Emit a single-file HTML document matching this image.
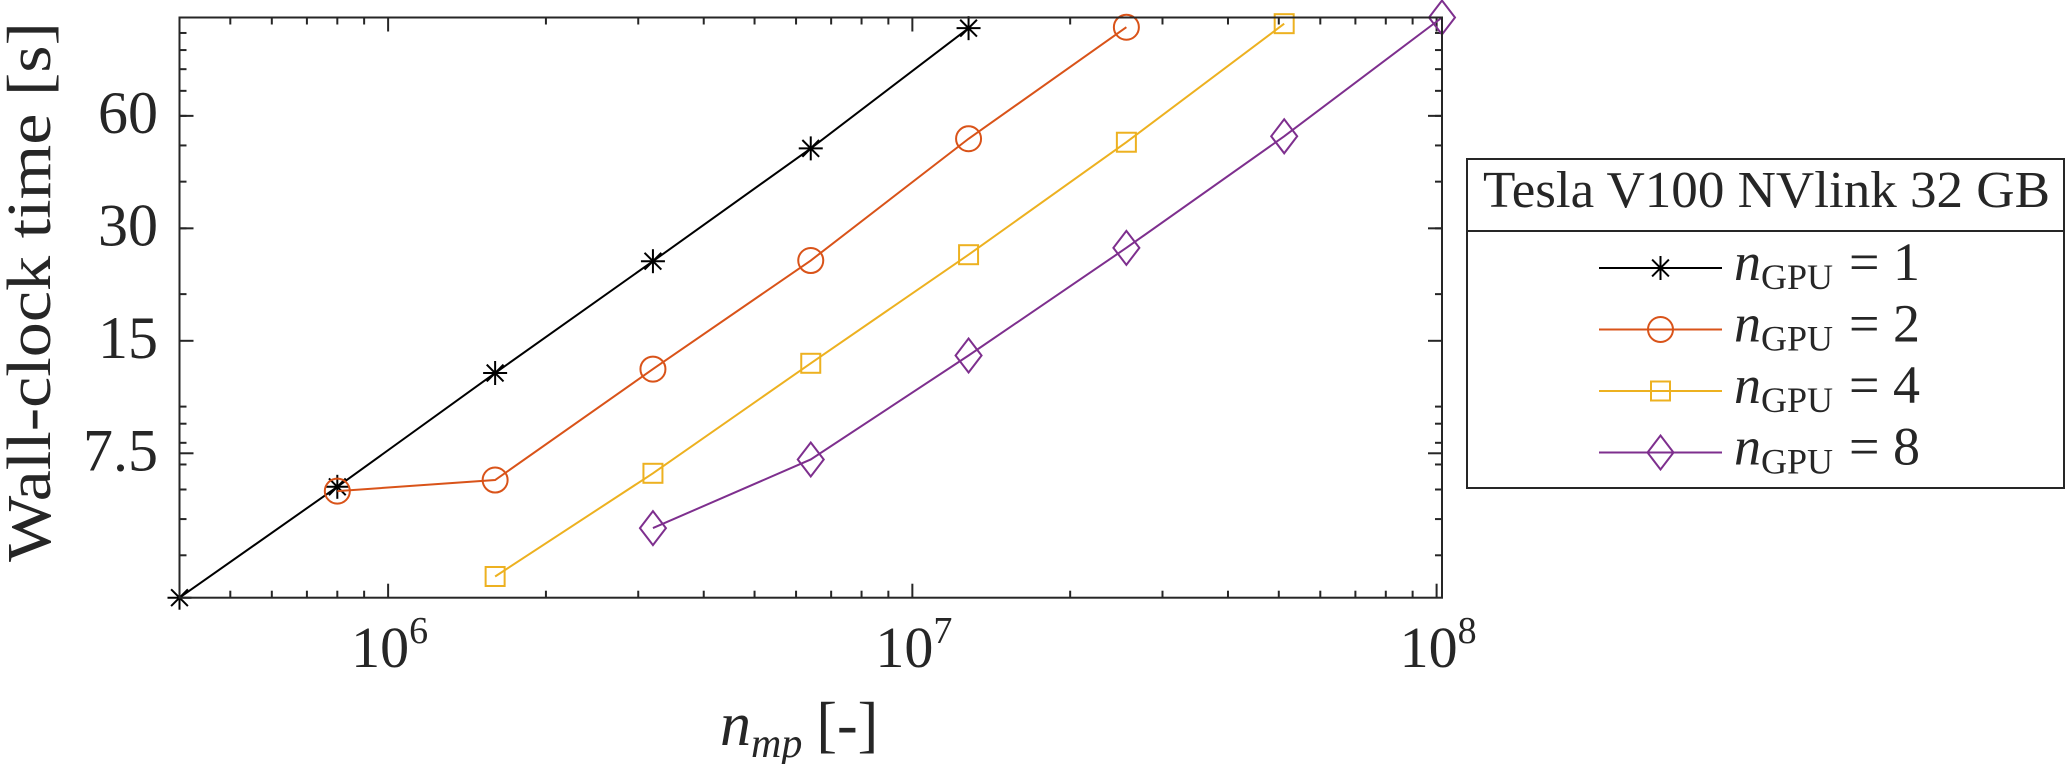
<!DOCTYPE html>
<html><head><meta charset="utf-8">
<style>
html,body{margin:0;padding:0;background:#fff;}
svg{display:block;}
text{font-family:"Liberation Serif",serif;fill:#262626;}
</style></head>
<body>
<svg id="chart" width="2067" height="764" viewBox="0 0 2067 764" xmlns="http://www.w3.org/2000/svg">
  <g id="grid"></g>
  <g id="series"></g>
  <g id="frame"></g>
  <text transform="translate(50,292) rotate(-90)" text-anchor="middle" font-size="62" textLength="540" lengthAdjust="spacingAndGlyphs">Wall-clock time [s]</text>
  <text x="720" y="745" font-size="62"><tspan font-style="italic">n</tspan><tspan font-style="italic" font-size="42" dy="12">mp</tspan><tspan dy="-12" dx="14">[-]</tspan></text>
  <g id="legend">
    <rect x="1467" y="159" width="597" height="329" fill="#fff" stroke="#262626" stroke-width="2"/>
    <line x1="1467" y1="231" x2="2064" y2="231" stroke="#262626" stroke-width="2"/>
    <text x="1483" y="207" font-size="52" textLength="567" lengthAdjust="spacingAndGlyphs">Tesla V100 NVlink 32 GB</text>
  </g>
</svg>
<script>
const categories = [4e5, 8e5, 1.6e6, 3.2e6, 6.4e6, 1.28e7, 2.56e7, 5.12e7, 1.024e8];
const seriesNames = ["n1", "n2", "n4", "n8"];
const gpuCounts = ["1", "2", "4", "8"];
const xN1 = [4e5, 8e5, 1.6e6, 3.2e6, 6.4e6, 1.28e7];
const yN1 = [3.08, 6.10, 12.3, 24.5, 49.1, 103.0];
const xN2 = [8e5, 1.6e6, 3.2e6, 6.4e6, 1.28e7, 2.56e7];
const yN2 = [5.94, 6.36, 12.6, 24.6, 52.1, 103.6];
const xN4 = [1.6e6, 3.2e6, 6.4e6, 1.28e7, 2.56e7, 5.12e7];
const yN4 = [3.51, 6.63, 13.06, 25.5, 51.0, 105.9];
const xN8 = [3.2e6, 6.4e6, 1.28e7, 2.56e7, 5.12e7, 1.024e8];
const yN8 = [4.73, 7.22, 13.7, 26.6, 52.9, 110];
const yTickValues = [7.5, 15, 30, 60];
const yTickLabels = ["7.5", "15", "30", "60"];
const yMinorValues = [4,5,6,7,8,9,10,20,30,40,50,60,70,80,90,100];
const xTickValues = [1e6, 1e7, 1e8];
const xTickExps = ["6", "7", "8"];
const xDomain = [4e5, 1.024e8];
const yDomain = [3.08, 110];

const L = 179.5, R = 1442, T = 17.5, B = 597.7;
const NS = "http://www.w3.org/2000/svg";
function xs(v){ return L + (Math.log10(v) - Math.log10(xDomain[0])) / (Math.log10(xDomain[1]) - Math.log10(xDomain[0])) * (R - L); }
function ys(v){ return B - (Math.log10(v) - Math.log10(yDomain[0])) / (Math.log10(yDomain[1]) - Math.log10(yDomain[0])) * (B - T); }
function mk(tag, attrs, parent){ const e = document.createElementNS(NS, tag); for (const k in attrs) e.setAttribute(k, attrs[k]); parent.appendChild(e); return e; }

const grid = document.getElementById('grid');
const frame = document.getElementById('frame');
const ax = "#262626";

// x minor ticks
for (let d = 5; d <= 8; d++) {
  for (let m = 1; m <= 9; m++) {
    const v = m * Math.pow(10, d);
    if (v < xDomain[0] || v > xDomain[1]) continue;
    const x = xs(v);
    const len = (m === 1) ? 14 : 7;
    const t1 = mk('line', {x1:x, y1:B, x2:x, y2:B-len, stroke:ax, 'stroke-width':2}, grid);
    
    
    const t2 = mk('line', {x1:x, y1:T, x2:x, y2:T+len, stroke:ax, 'stroke-width':2}, grid);
    
    
  }
}
// y minor ticks
yMinorValues.forEach(v => {
  if (v < yDomain[0] || v > yDomain[1]) return;
  const y = ys(v);
  const a = mk('line', {x1:L, y1:y, x2:L+7, y2:y, stroke:ax, 'stroke-width':2}, grid);
  
  
  const b = mk('line', {x1:R, y1:y, x2:R-7, y2:y, stroke:ax, 'stroke-width':2}, grid);
  
  
});
// y major ticks + labels
yTickValues.forEach((v, i) => {
  const y = ys(v);
  const a = mk('line', {x1:L, y1:y, x2:L+14, y2:y, stroke:ax, 'stroke-width':2}, grid);
  
  
  const b = mk('line', {x1:R, y1:y, x2:R-14, y2:y, stroke:ax, 'stroke-width':2}, grid);
  
  
  const t = mk('text', {x:158, y:y+17, 'text-anchor':'end', 'font-size':60}, grid);
  
  
  t.textContent = yTickLabels[i];
});
// x labels
xTickValues.forEach((v, i) => {
  const x = xs(v);
  const t = mk('text', {x:x-37, y:667, 'font-size':58}, grid);
  
  
  t.textContent = "10";
  const s = mk('tspan', {dy:-24, 'font-size':38}, t);
  s.textContent = xTickExps[i];
});
// frame
const fr = mk('rect', {x:L, y:T, width:R-L, height:B-T, fill:'none', stroke:ax, 'stroke-width':2}, frame);



const colors = ["#000000", "#D95319", "#EDB120", "#7E2F8E"];
const markers = ["star", "circle", "square", "diamond"];
const xsData = [xN1, xN2, xN4, xN8];
const ysData = [yN1, yN2, yN4, yN8];

function marker(type, cx, cy, color, parent){
  const g = mk('g', {fill:'none', stroke:color, 'stroke-width':2}, parent);
  if (type === 'star') {
    const r = 12;
    mk('line', {x1:cx-r, y1:cy, x2:cx+r, y2:cy}, g);
    mk('line', {x1:cx, y1:cy-r, x2:cx, y2:cy+r}, g);
    mk('line', {x1:cx-r*0.7, y1:cy-r*0.7, x2:cx+r*0.7, y2:cy+r*0.7}, g);
    mk('line', {x1:cx-r*0.7, y1:cy+r*0.7, x2:cx+r*0.7, y2:cy-r*0.7}, g);
  } else if (type === 'circle') {
    mk('circle', {cx:cx, cy:cy, r:12.5}, g);
  } else if (type === 'square') {
    mk('rect', {x:cx-9.5, y:cy-9.5, width:19, height:19}, g);
  } else {
    mk('polygon', {points:`${cx},${cy-17} ${cx+13},${cy} ${cx},${cy+17} ${cx-13},${cy}`}, g);
  }
  return g;
}

const seriesG = document.getElementById('series');
seriesNames.forEach((name, si) => {
  const g = mk('g', {}, seriesG);
  
  
  const pts = xsData[si].map((xv, i) => xs(xv) + ',' + ys(ysData[si][i])).join(' ');
  const pl = mk('polyline', {points:pts, fill:'none', stroke:colors[si], 'stroke-width':2}, g);
  
  
  xsData[si].forEach((xv, i) => {
    const m = marker(markers[si], xs(xv), ys(ysData[si][i]), colors[si], g);
    
    
  });
});

// legend entries
const legend = document.getElementById('legend');
const rowY = [268, 329.5, 391, 452.5];
seriesNames.forEach((name, si) => {
  const g = mk('g', {}, legend);
  
  
  const y = rowY[si];
  mk('line', {x1:1599, y1:y, x2:1722, y2:y, stroke:colors[si], 'stroke-width':2}, g);
  marker(markers[si], 1660.5, y, colors[si], g);
  const t = mk('text', {x:1734, y:y+12, 'font-size':54}, g);
  const n = mk('tspan', {'font-style':'italic'}, t);
  n.textContent = 'n';
  const sub = mk('tspan', {'font-size':36, dy:9}, t);
  sub.textContent = 'GPU';
  const eq = mk('tspan', {dy:-9, dx:16}, t);
  eq.textContent = '= ' + gpuCounts[si];
});
</script>
</body></html>
